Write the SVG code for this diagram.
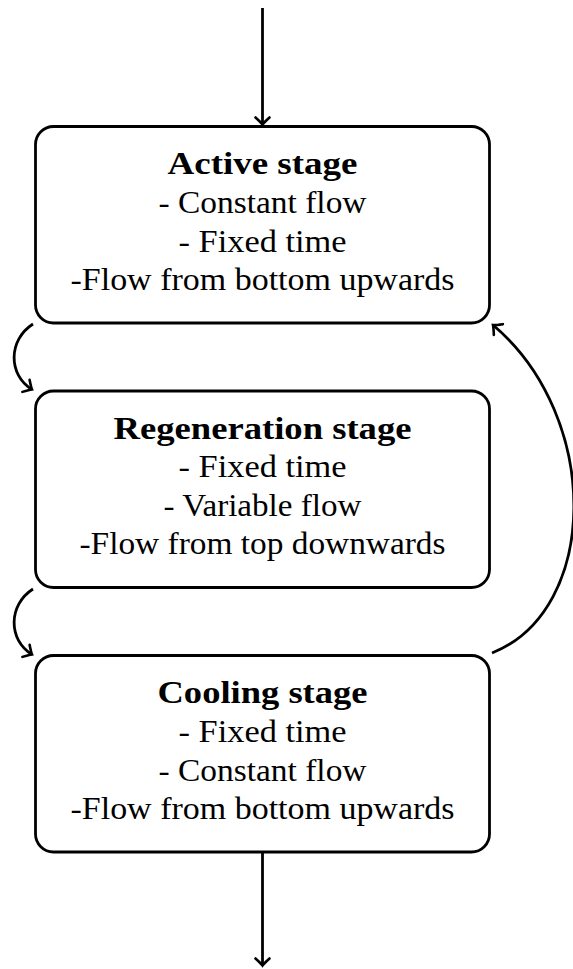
<svg xmlns="http://www.w3.org/2000/svg" width="573" height="969" viewBox="0 0 573 969">
<style>
.box{fill:#fff;stroke:#000;stroke-width:2.8}
.t{font-family:"Liberation Serif","Times New Roman",serif;font-size:31px;fill:#000;text-anchor:middle}
.b{font-weight:bold}
.c{fill:none;stroke:#000;stroke-width:2.8}
</style>
<defs>
<marker id="arr" markerUnits="userSpaceOnUse" markerWidth="20" markerHeight="20" viewBox="-10 -10 20 20" refX="0" refY="0" orient="auto">
<path d="M-7,-7 Q-2,-1.5 0,0 Q-2,1.5 -7,7" fill="none" stroke="#000" stroke-width="2.6" stroke-linecap="round"/>
</marker>
</defs>
<rect width="573" height="969" fill="#fff"/>
<g id="connectors">
<path class="c" d="M262.5,8 L262.5,124.5" marker-end="url(#arr)"/>
<path class="c" d="M33,324 C8,340 8,375 32,389.5" marker-end="url(#arr)"/>
<path class="c" d="M33,589 C8,605 8,640 32,654.5" marker-end="url(#arr)"/>
<path class="c" d="M492,653 C600,610 602,417 493,325" marker-end="url(#arr)"/>
<path class="c" d="M262.5,853 L262.5,965.5" marker-end="url(#arr)"/>
</g>
<g id="active">
<rect class="box" x="35.5" y="126.5" width="454" height="196.5" rx="18"/>
<text class="t b" x="262.5" y="174" textLength="190" lengthAdjust="spacingAndGlyphs">Active stage</text>
<text class="t" x="262.5" y="213" textLength="208" lengthAdjust="spacingAndGlyphs">- Constant flow</text>
<text class="t" x="262.5" y="251.5" textLength="168" lengthAdjust="spacingAndGlyphs">- Fixed time</text>
<text class="t" x="262.5" y="290" textLength="384" lengthAdjust="spacingAndGlyphs">-Flow from bottom upwards</text>
</g>
<g id="regeneration">
<rect class="box" x="35.5" y="391" width="454" height="196.5" rx="18"/>
<text class="t b" x="262.5" y="438.5" textLength="298" lengthAdjust="spacingAndGlyphs">Regeneration stage</text>
<text class="t" x="262.5" y="477" textLength="168" lengthAdjust="spacingAndGlyphs">- Fixed time</text>
<text class="t" x="262.5" y="515.5" textLength="198" lengthAdjust="spacingAndGlyphs">- Variable flow</text>
<text class="t" x="262.5" y="554" textLength="366" lengthAdjust="spacingAndGlyphs">-Flow from top downwards</text>
</g>
<g id="cooling">
<rect class="box" x="35.5" y="655.5" width="454" height="196.5" rx="18"/>
<text class="t b" x="262.5" y="703" textLength="210" lengthAdjust="spacingAndGlyphs">Cooling stage</text>
<text class="t" x="262.5" y="742" textLength="168" lengthAdjust="spacingAndGlyphs">- Fixed time</text>
<text class="t" x="262.5" y="780.5" textLength="208" lengthAdjust="spacingAndGlyphs">- Constant flow</text>
<text class="t" x="262.5" y="819" textLength="384" lengthAdjust="spacingAndGlyphs">-Flow from bottom upwards</text>
</g>
</svg>
